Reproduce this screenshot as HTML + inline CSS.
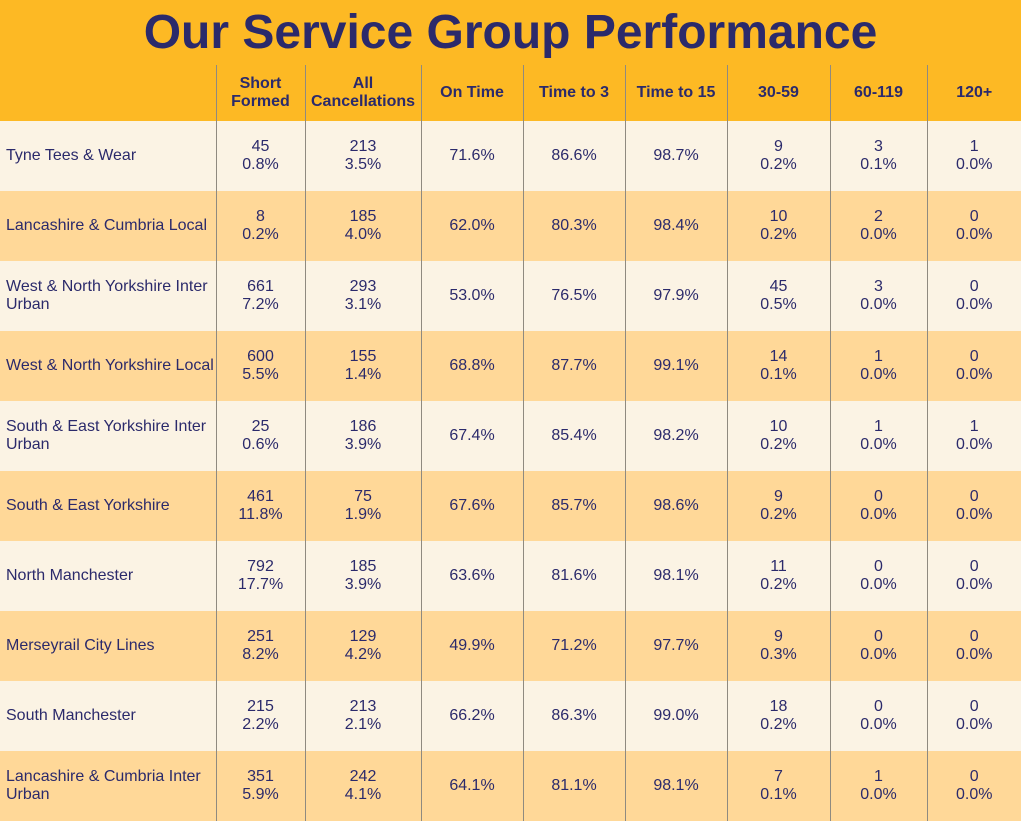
<!DOCTYPE html>
<html><head><style>
body{margin:0;width:1021px;height:821px;overflow:hidden;background:#FBF3E4;font-family:"Liberation Sans",sans-serif;color:#2B2A6B;position:relative}
.top{position:absolute;left:0;top:0;width:1021px;height:121px;background:#FDB924}
h1{position:absolute;left:0;top:2px;width:1021px;margin:0;text-align:center;font-size:48px;font-weight:bold;line-height:62px;color:#2B2A6B}
table{position:absolute;left:0;top:65px;border-collapse:collapse;table-layout:fixed;width:1021px}
td,th{padding:0;font-size:16px;line-height:18px;text-align:center;border-left:1px solid #8f8a80}
td:first-child,th:first-child{border-left:none;text-align:left;padding-left:6px}
th{height:56px;font-weight:bold}
td{height:70px}
tr:nth-child(even) td{background:#FBF3E4}
tr:nth-child(odd) td{background:#FFD898}
tr.h th{background:transparent}
</style></head><body>
<div class="top"></div>
<h1>Our Service Group Performance</h1>
<table>
<colgroup><col style="width:216px"><col style="width:89px"><col style="width:116px"><col style="width:102px"><col style="width:102px"><col style="width:102px"><col style="width:103px"><col style="width:97px"><col style="width:94px"></colgroup>
<tr class="h"><th></th><th>Short<br>Formed</th><th>All<br>Cancellations</th><th>On Time</th><th>Time to 3</th><th>Time to 15</th><th>30-59</th><th>60-119</th><th>120+</th></tr>
<tr><td>Tyne Tees &amp; Wear</td><td>45<br>0.8%</td><td>213<br>3.5%</td><td>71.6%</td><td>86.6%</td><td>98.7%</td><td>9<br>0.2%</td><td>3<br>0.1%</td><td>1<br>0.0%</td></tr>
<tr><td>Lancashire &amp; Cumbria Local</td><td>8<br>0.2%</td><td>185<br>4.0%</td><td>62.0%</td><td>80.3%</td><td>98.4%</td><td>10<br>0.2%</td><td>2<br>0.0%</td><td>0<br>0.0%</td></tr>
<tr><td>West &amp; North Yorkshire Inter<br>Urban</td><td>661<br>7.2%</td><td>293<br>3.1%</td><td>53.0%</td><td>76.5%</td><td>97.9%</td><td>45<br>0.5%</td><td>3<br>0.0%</td><td>0<br>0.0%</td></tr>
<tr><td>West &amp; North Yorkshire Local</td><td>600<br>5.5%</td><td>155<br>1.4%</td><td>68.8%</td><td>87.7%</td><td>99.1%</td><td>14<br>0.1%</td><td>1<br>0.0%</td><td>0<br>0.0%</td></tr>
<tr><td>South &amp; East Yorkshire Inter<br>Urban</td><td>25<br>0.6%</td><td>186<br>3.9%</td><td>67.4%</td><td>85.4%</td><td>98.2%</td><td>10<br>0.2%</td><td>1<br>0.0%</td><td>1<br>0.0%</td></tr>
<tr><td>South &amp; East Yorkshire</td><td>461<br>11.8%</td><td>75<br>1.9%</td><td>67.6%</td><td>85.7%</td><td>98.6%</td><td>9<br>0.2%</td><td>0<br>0.0%</td><td>0<br>0.0%</td></tr>
<tr><td>North Manchester</td><td>792<br>17.7%</td><td>185<br>3.9%</td><td>63.6%</td><td>81.6%</td><td>98.1%</td><td>11<br>0.2%</td><td>0<br>0.0%</td><td>0<br>0.0%</td></tr>
<tr><td>Merseyrail City Lines</td><td>251<br>8.2%</td><td>129<br>4.2%</td><td>49.9%</td><td>71.2%</td><td>97.7%</td><td>9<br>0.3%</td><td>0<br>0.0%</td><td>0<br>0.0%</td></tr>
<tr><td>South Manchester</td><td>215<br>2.2%</td><td>213<br>2.1%</td><td>66.2%</td><td>86.3%</td><td>99.0%</td><td>18<br>0.2%</td><td>0<br>0.0%</td><td>0<br>0.0%</td></tr>
<tr><td>Lancashire &amp; Cumbria Inter<br>Urban</td><td>351<br>5.9%</td><td>242<br>4.1%</td><td>64.1%</td><td>81.1%</td><td>98.1%</td><td>7<br>0.1%</td><td>1<br>0.0%</td><td>0<br>0.0%</td></tr>
</table>
</body></html>
